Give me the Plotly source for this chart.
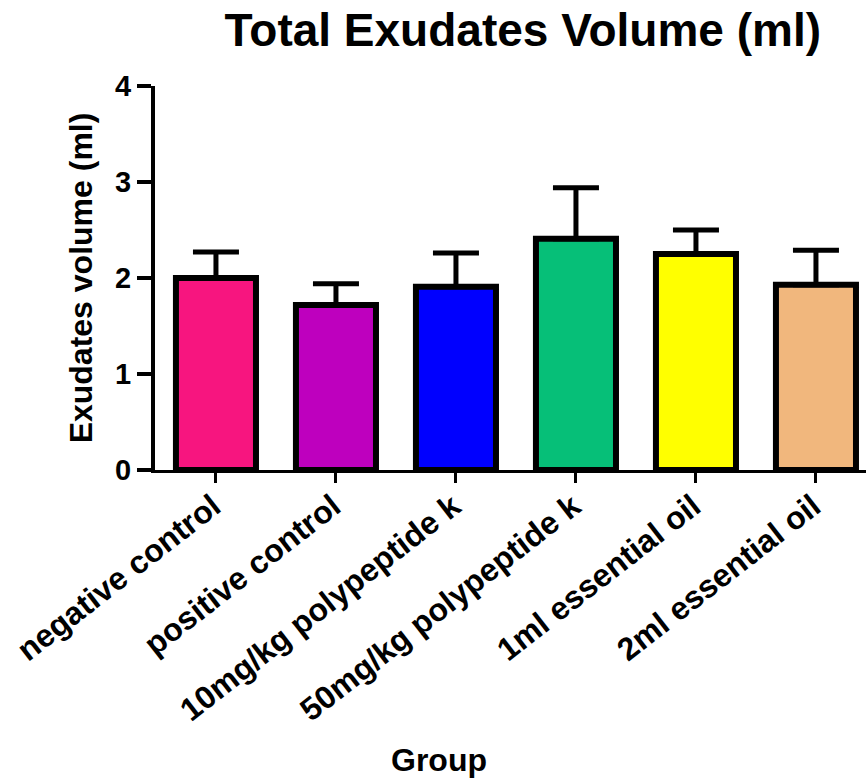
import plotly.graph_objects as go

groups = ["negative control", "positive control", "10mg/kg polypeptide k",
          "50mg/kg polypeptide k", "1ml essential oil", "2ml essential oil"]
means = [2.00, 1.72, 1.91, 2.41, 2.25, 1.93]
sems = [0.27, 0.22, 0.35, 0.53, 0.25, 0.36]
colors = ["#F7157F", "#BE00BE", "#0000FF", "#06BF78", "#FFFF00", "#F1B77D"]
y_ticks = [0, 1, 2, 3, 4]

FONT = "Liberation Sans, Arial, sans-serif"

fig = go.Figure()
fig.add_trace(go.Bar(
    x=groups, y=means, width=0.667,
    marker=dict(color=colors, line=dict(color="black", width=6)),
    error_y=dict(type="data", symmetric=False, array=sems,
                 arrayminus=[0] * len(sems), color="black",
                 thickness=5, width=23),
))

fig.update_layout(
    width=867, height=779,
    paper_bgcolor="white", plot_bgcolor="white",
    margin=dict(l=155, r=1, t=86, b=309),
    showlegend=False,
    font=dict(family=FONT, color="black"),
    title=dict(text="Total Exudates Volume (ml)", x=0.603, xanchor="center",
               xref="container", yref="container", y=0.961, yanchor="middle",
               font=dict(family=FONT, size=46, weight="bold", color="black")),
    annotations=[dict(text="Group", xref="paper", yref="paper",
                      x=0.399, y=-0.755, xanchor="center", yanchor="middle",
                      showarrow=False,
                      font=dict(family=FONT, size=32, weight="bold", color="black"))],
)
fig.update_xaxes(
    range=[-0.508, 5.417], showline=True, linecolor="black", linewidth=3,
    ticks="outside", ticklen=10, tickwidth=3, tickcolor="black",
    tickangle=-38, tickfont=dict(family=FONT, size=32, weight="bold"),
    ticklabelshift=-3, ticklabelstandoff=-8,
    showgrid=False, zeroline=False, automargin=False,
)
fig.update_yaxes(
    range=[0, 4], tickvals=y_ticks, ticktext=[str(v) for v in y_ticks],
    showline=True, linecolor="black", linewidth=4,
    ticks="outside", ticklen=14, tickwidth=4, tickcolor="black",
    tickfont=dict(family=FONT, size=29, weight="bold"),
    title=dict(text="Exudates volume (ml)", standoff=14,
               font=dict(family=FONT, size=32, weight="bold")),
    showgrid=False, zeroline=False, automargin=False,
)

fig.write_html("out.html", config={"displayModeBar": False},
               post_script="document.body.style.margin='0';document.body.style.padding='0';")
